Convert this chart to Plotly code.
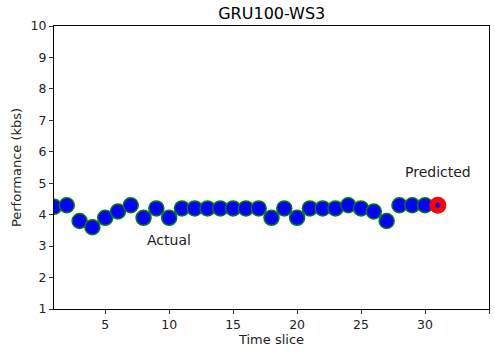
import plotly.graph_objects as go

time_slices = list(range(1, 31))
actual = [4.25, 4.3, 3.8, 3.6, 3.9, 4.1, 4.3, 3.9, 4.2, 3.9,
          4.2, 4.2, 4.2, 4.2, 4.2, 4.2, 4.2, 3.9, 4.2, 3.9,
          4.2, 4.2, 4.2, 4.3, 4.2, 4.1, 3.8, 4.3, 4.3, 4.3]
pred_x = [31]
pred_y = [4.3]
x_ticks = [5, 10, 15, 20, 25, 30, 35]
y_ticks = list(range(1, 11))

font = "DejaVu Sans"
fig = go.Figure()
fig.add_trace(go.Scatter(x=time_slices, y=actual, mode="markers",
                         marker=dict(size=15, color="#0000ff", line=dict(color="#008000", width=1.5)),
                         showlegend=False))
fig.add_trace(go.Scatter(x=pred_x, y=pred_y, mode="markers",
                         marker=dict(size=17, color="#ff0000", line=dict(width=0)),
                         showlegend=False))
fig.add_trace(go.Scatter(x=pred_x, y=pred_y, mode="markers",
                         marker=dict(size=5, color="#0000ff", line=dict(width=0)),
                         showlegend=False))

fig.add_annotation(x=10, y=3.2, text="Actual", showarrow=False,
                   font=dict(family=font, size=14, color="#222"))
fig.add_annotation(x=31, y=5.35, text="Predicted", showarrow=False,
                   font=dict(family=font, size=14, color="#222"))

axis_common = dict(showgrid=False, zeroline=False, showline=True, linecolor="#000",
                   linewidth=1, mirror=True, ticks="outside", ticklen=4, tickcolor="#333",
                   automargin=False,
                   tickfont=dict(family=font, size=12.5, color="#222"))
fig.update_xaxes(range=[1, 35], tickvals=x_ticks,
                 title=dict(text="Time slice", font=dict(family=font, size=13, color="#222"), standoff=2),
                 **axis_common)
fig.update_yaxes(range=[1, 10], tickvals=y_ticks,
                 title=dict(text="Performance (kbs)", font=dict(family=font, size=13, color="#222"), standoff=6),
                 **axis_common)
fig.update_layout(width=495, height=353, margin=dict(l=54, r=6, t=26, b=44),
                  paper_bgcolor="white", plot_bgcolor="white",
                  title=dict(text="GRU100-WS3", x=0.549, xanchor="center", y=0.961, yanchor="middle",
                             font=dict(family=font, size=16, color="#000")))
fig.write_html("out.html", config={"displayModeBar": False},
               post_script="document.body.style.margin='0';")
